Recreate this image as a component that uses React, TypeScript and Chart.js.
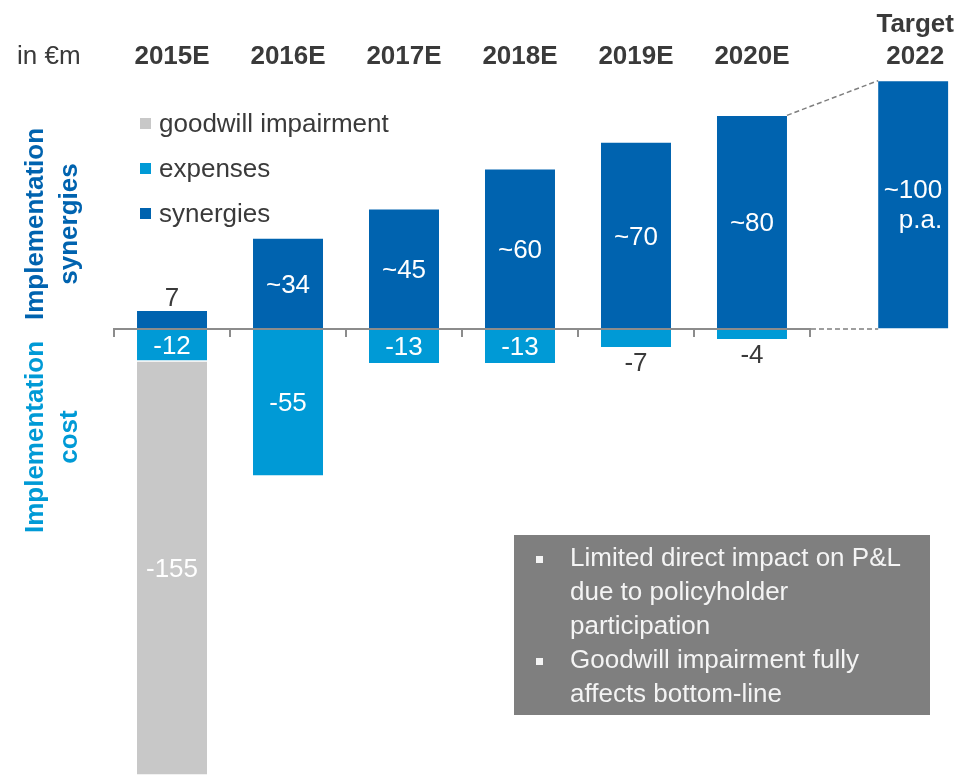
import { useEffect, useRef } from 'react';
import { Chart, registerables } from 'chart.js';

Chart.register(...registerables);

// ---------- data ----------
const categories = ['2015E', '2016E', '2017E', '2018E', '2019E', '2020E', 'Target\n2022'];
const slots = [0, 1, 2, 3, 4, 5, 6.39];
const synergies = [7, 34, 45, 60, 70, 80, 93];
const expenses: (number | null)[] = [-12, -55, -13, -13, -7, -4, null];
const goodwill: (number | null)[] = [-155, null, null, null, null, null, null];
const synergyLabels = ['7', '~34', '~45', '~60', '~70', '~80', '~100\np.a.'];
const expenseLabels = ['-12', '-55', '-13', '-13', '-7', '-4', ''];
const goodwillLabels = ['-155', '', '', '', '', '', ''];
const legendLabels = ['goodwill impairment', 'expenses', 'synergies'];
const unitLabel = 'in €m';
const sideLabelTop = ['Implementation', 'synergies'];
const sideLabelBottom = ['Implementation', 'cost'];
const noteBullets = [
  ['Limited direct impact on P&L', 'due to policyholder', 'participation'],
  ['Goodwill impairment fully', 'affects bottom-line'],
];

// ---------- styles ----------
const DARK_BLUE = '#0063AF';
const LIGHT_BLUE = '#009AD6';
const GREY = '#C8C8C8';
const AXIS = '#8C8C8C';
const TEXT = '#3A3A3A';
const FONT = '"Liberation Sans", Arial, sans-serif';
const F = (size: number, bold = false) => `${bold ? 'bold ' : ''}${size}px ${FONT}`;

const overlay = {
  id: 'overlay',
  afterDatasetsDraw(chart: any) {
    const ctx: CanvasRenderingContext2D = chart.ctx;
    const xs = chart.scales.x;
    const ys = chart.scales.y;
    const y0 = ys.getPixelForValue(0);
    const left = xs.getPixelForValue(-0.5);
    const right = xs.getPixelForValue(5.5);
    ctx.save();

    // axis line + ticks
    ctx.strokeStyle = AXIS;
    ctx.lineWidth = 2;
    ctx.beginPath();
    ctx.moveTo(left - 1, y0);
    ctx.lineTo(right + 1, y0);
    for (let k = 0; k <= 6; k++) {
      const px = Math.round(xs.getPixelForValue(k - 0.5));
      ctx.moveTo(px, y0);
      ctx.lineTo(px, y0 + 8);
    }
    ctx.stroke();

    // dashed connectors to target
    const syn = chart.getDatasetMeta(0).data;
    const b5 = syn[5];
    const b6 = syn[6];
    ctx.setLineDash([5, 3]);
    ctx.strokeStyle = '#7F7F7F';
    ctx.lineWidth = 1.5;
    ctx.beginPath();
    ctx.moveTo(b5.x + b5.width / 2, b5.y);
    ctx.lineTo(b6.x - b6.width / 2, b6.y);
    ctx.moveTo(right + 1, y0);
    ctx.lineTo(b6.x - b6.width / 2, y0);
    ctx.stroke();
    ctx.setLineDash([]);

    // value labels
    ctx.font = F(26);
    ctx.textAlign = 'center';
    ctx.textBaseline = 'alphabetic';
    const H = chart.height;

    syn.forEach((el: any, i: number) => {
      const txt = synergyLabels[i];
      if (!txt) return;
      const top = el.y;
      const bot = el.base;
      if (txt.includes('\n')) {
        const lines = txt.split('\n');
        ctx.fillStyle = '#FFFFFF';
        ctx.textAlign = 'right';
        const cy = (top + bot) / 2;
        const rx = el.x + el.width / 2 - 6;
        ctx.fillText(lines[0], rx, cy - 15 + 8);
        ctx.fillText(lines[1], rx, cy + 15 + 8);
        ctx.textAlign = 'center';
      } else if (bot - top < 25) {
        ctx.fillStyle = TEXT;
        ctx.fillText(txt, el.x, top - 4);
      } else {
        ctx.fillStyle = '#FFFFFF';
        ctx.fillText(txt, el.x, (top + bot) / 2 + 9);
      }
    });

    const exp = chart.getDatasetMeta(1).data;
    exp.forEach((el: any, i: number) => {
      const txt = expenseLabels[i];
      if (!txt || expenses[i] == null) return;
      const top = el.base;
      const bot = el.y;
      if (bot - top < 25) {
        ctx.fillStyle = TEXT;
        ctx.fillText(txt, el.x, bot + 23);
      } else {
        ctx.fillStyle = '#FFFFFF';
        ctx.fillText(txt, el.x, (top + bot) / 2 + 9);
      }
    });

    const gw = chart.getDatasetMeta(2).data;
    gw.forEach((el: any, i: number) => {
      const txt = goodwillLabels[i];
      if (!txt || goodwill[i] == null) return;
      const top = el.base;
      const bot = Math.min(el.y, H);
      ctx.fillStyle = '#FFFFFF';
      ctx.fillText(txt, el.x, (top + bot) / 2 + 9);
    });

    ctx.restore();
  },
  afterDraw(chart: any) {
    const ctx: CanvasRenderingContext2D = chart.ctx;
    const xs = chart.scales.x;
    ctx.save();
    ctx.textBaseline = 'alphabetic';

    // unit label
    ctx.fillStyle = TEXT;
    ctx.font = F(26);
    ctx.textAlign = 'left';
    ctx.fillText(unitLabel, 17, 64);

    // category header labels
    ctx.font = F(26, true);
    ctx.textAlign = 'center';
    categories.forEach((c, i) => {
      const px = xs.getPixelForValue(slots[i]);
      const lines = c.split('\n');
      if (lines.length === 2) {
        ctx.fillText(lines[0], px + 2, 32);
        ctx.fillText(lines[1], px + 2, 64);
      } else {
        ctx.fillText(c, px, 64);
      }
    });

    // legend
    const legendColors = [GREY, LIGHT_BLUE, DARK_BLUE];
    ctx.font = F(26);
    ctx.textAlign = 'left';
    legendLabels.forEach((l, i) => {
      const base = 132 + i * 45;
      ctx.fillStyle = legendColors[i];
      ctx.fillRect(140, base - 14, 11, 11);
      ctx.fillStyle = TEXT;
      ctx.fillText(l, 159, base);
    });

    // rotated side labels
    const drawSide = (lines: string[], cy: number, color: string) => {
      ctx.fillStyle = color;
      ctx.font = F(26, true);
      ctx.textAlign = 'center';
      lines.forEach((t, j) => {
        ctx.save();
        ctx.translate(43 + j * 34, cy);
        ctx.rotate(-Math.PI / 2);
        ctx.fillText(t, 0, 0);
        ctx.restore();
      });
    };
    drawSide(sideLabelTop, 224, DARK_BLUE);
    drawSide(sideLabelBottom, 437, LIGHT_BLUE);

    // note box
    ctx.fillStyle = '#7F7F7F';
    ctx.fillRect(514, 535, 416, 180);
    ctx.font = F(26);
    ctx.textAlign = 'left';
    let base = 566;
    noteBullets.forEach((lines) => {
      ctx.fillStyle = '#F4F4F4';
      ctx.fillRect(536, base - 10, 7, 7);
      lines.forEach((t) => {
        ctx.fillText(t, 570, base);
        base += 34;
      });
    });

    ctx.restore();
  },
};

export default function App() {
  const ref = useRef<HTMLCanvasElement | null>(null);
  useEffect(() => {
    if (!ref.current) return;
    const toPts = (arr: (number | null)[]) => arr.map((v, i) => ({ x: slots[i], y: v }));
    const border = { top: 1, bottom: 1, left: 0, right: 0 };
    const common = { borderColor: '#FFFFFF', borderWidth: border as any, borderSkipped: false as any, barThickness: 70 };
    const chart = new Chart(ref.current, {
      type: 'bar',
      data: {
        datasets: [
          { label: legendLabels[2], data: toPts(synergies) as any, backgroundColor: DARK_BLUE, ...common },
          { label: legendLabels[1], data: toPts(expenses) as any, backgroundColor: LIGHT_BLUE, ...common },
          { label: legendLabels[0], data: toPts(goodwill) as any, backgroundColor: GREY, ...common },
        ],
      },
      options: {
        responsive: false,
        maintainAspectRatio: false,
        animation: false,
        events: [],
        layout: { padding: 0 },
        plugins: { legend: { display: false }, tooltip: { enabled: false } },
        scales: {
          x: { type: 'linear', min: -1.483, max: 6.802, display: false, stacked: true, offset: false, grid: { offset: false } },
          y: { min: -167.4, max: 123.2, display: false, stacked: true },
        },
      },
      plugins: [overlay],
    });
    return () => chart.destroy();
  }, []);
  return (
    <div style={{ position: 'fixed', left: 0, top: 0, width: 961, height: 776, background: '#fff' }}>
      <canvas ref={ref} width={961} height={776} style={{ display: 'block', width: 961, height: 776 }} />
    </div>
  );
}
